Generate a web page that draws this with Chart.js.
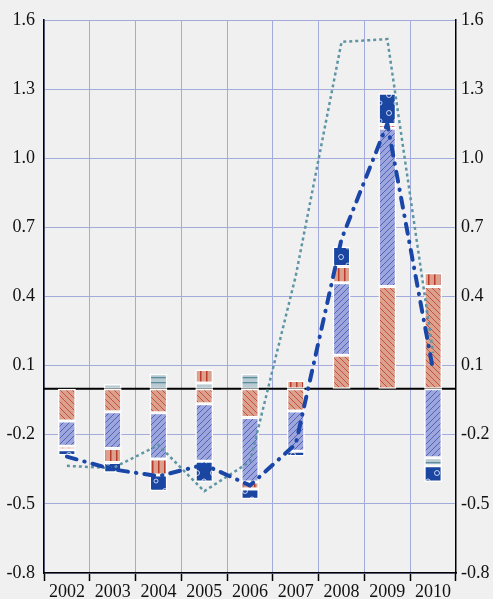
<!DOCTYPE html>
<html>
<head>
<meta charset="utf-8">
<script src="https://cdn.jsdelivr.net/npm/chart.js@4.4.0/dist/chart.umd.min.js"></script>
<style>
  html, body { margin: 0; padding: 0; background: #f0f0f0; }
  #wrap { width: 493px; height: 599px; }
</style>
</head>
<body>
<div id="wrap"><canvas id="chart" width="493" height="599"></canvas></div>
<script>
// categories
const years = ['2002', '2003', '2004', '2005', '2006', '2007', '2008', '2009', '2010']

// stacked contributions
const salmonDiag = [-0.14, -0.10, -0.105, -0.065, -0.125, -0.097, 0.145, 0.443, 0.443]
const blueDiag   = [-0.11, -0.16, -0.20, -0.25, -0.28, -0.175, 0.315, 0.687, -0.30]
const hLines     = [null, 0.02, 0.065, 0.025, 0.065, null, null, null, -0.035]
const vLines     = [-0.015, -0.06, -0.07, 0.058, -0.03, 0.035, 0.07, 0.017, 0.06]
const darkBlue   = [-0.025, -0.045, -0.07, -0.09, -0.045, -0.022, 0.087, 0.135, -0.07]

// lines
const dottedLine  = [-0.335, -0.345, -0.245, -0.445, -0.317, 0.49, 1.505, 1.517, 0.155]
const dashDotLine = [-0.295, -0.35, -0.38, -0.33, -0.42, -0.24, 0.65, 1.15, 0.08]

// axis
const yMin = -0.8
const yMax = 1.6
const yStep = 0.3

const ctx = document.getElementById('chart').getContext('2d')

function makePattern(w, h, bg, draw) {
  const c = document.createElement('canvas')
  c.width = w
  c.height = h
  const g = c.getContext('2d')
  g.fillStyle = bg
  g.fillRect(0, 0, w, h)
  draw(g)
  return ctx.createPattern(c, 'repeat')
}

const patSalmonDiag = makePattern(6, 6, '#dba18c', g => {
  g.strokeStyle = '#c2453a'
  g.lineWidth = 0.9
  g.beginPath()
  for (const k of [-6, 0, 6]) { g.moveTo(k, 0); g.lineTo(k + 6, 6) }
  g.stroke()
})
const patBlueDiag = makePattern(6, 6, '#9ca5dc', g => {
  g.strokeStyle = '#4a5cb4'
  g.lineWidth = 0.9
  g.beginPath()
  for (const k of [-6, 0, 6]) { g.moveTo(k + 6, 0); g.lineTo(k, 6) }
  g.stroke()
})
const patH = makePattern(6, 5, '#b8cbd2', g => {
  g.fillStyle = '#5b8d9d'
  g.fillRect(0, 2, 6, 1.3)
})
const patV = makePattern(6, 6, '#dba18c', g => {
  g.fillStyle = '#bb3a2c'
  g.fillRect(2, 0, 1.5, 6)
})
const patDark = makePattern(16, 18, '#1a46a2', g => {
  g.strokeStyle = 'rgba(255,255,255,0.75)'
  g.lineWidth = 1
  g.beginPath(); g.arc(5, 5, 2.5, 0, Math.PI * 2); g.stroke()
  g.beginPath(); g.arc(12, 13, 2, 0, Math.PI * 2); g.stroke()
})

function barSet(label, data, bg) {
  return {
    type: 'bar', label: label, data: data,
    backgroundColor: bg, borderColor: '#ffffff', borderWidth: 1.5,
    borderSkipped: false, stack: 'bars', order: 1,
    categoryPercentage: 1, barPercentage: 0.39
  }
}

// zero line drawn under the bars
const zeroLine = {
  id: 'zeroLine',
  beforeDatasetsDraw(chart) {
    const y = chart.scales.y.getPixelForValue(0)
    const a = chart.chartArea
    const c = chart.ctx
    c.save()
    c.strokeStyle = '#000'
    c.lineWidth = 2
    c.beginPath()
    c.moveTo(a.left, y)
    c.lineTo(a.right, y)
    c.stroke()
    c.restore()
  }
}

const bgFill = {
  id: 'bgFill',
  beforeDraw(chart) {
    const c = chart.ctx
    c.save()
    c.fillStyle = '#f0f0f0'
    c.fillRect(0, 0, chart.width, chart.height)
    c.restore()
  }
}

const tickFont = { family: '"Liberation Serif", "DejaVu Serif", serif', size: 18 }

new Chart(ctx, {
  data: {
    labels: years,
    datasets: [
      {
        type: 'line', label: 'dash-dot', data: dashDotLine, stack: 'l1', order: -2,
        borderColor: '#1a46a8', borderWidth: 4, borderDash: [10, 8, 0.5, 8],
        borderCapStyle: 'round', pointRadius: 0, tension: 0, fill: false
      },
      {
        type: 'line', label: 'dotted', data: dottedLine, stack: 'l2', order: -1,
        borderColor: '#5e95a4', borderWidth: 2.5, borderDash: [3, 3],
        pointRadius: 0, tension: 0, fill: false
      },
      barSet('a', salmonDiag, patSalmonDiag),
      barSet('b', blueDiag, patBlueDiag),
      barSet('c', hLines, patH),
      barSet('d', vLines, patV),
      barSet('e', darkBlue, patDark)
    ]
  },
  options: {
    responsive: false,
    animation: false,
    devicePixelRatio: 1,
    layout: { padding: { top: 20, left: 0, right: 0, bottom: 0 } },
    plugins: { legend: { display: false }, tooltip: { enabled: false } },
    scales: {
      x: {
        stacked: true,
        offset: true,
        grid: { offset: true, color: '#a3aadc', lineWidth: 1, tickColor: '#000', tickLength: 8, tickWidth: 1.5 },
        border: { display: true, color: '#000', width: 1.5 },
        ticks: { color: '#111', font: tickFont, padding: 0, maxRotation: 0 },
        afterFit(scale) { scale.height = 26 }
      },
      y: {
        stacked: true,
        position: 'left',
        min: yMin, max: yMax,
        grid: { color: '#a3aadc', lineWidth: 1, drawTicks: false },
        border: { display: true, color: '#000', width: 1.5 },
        ticks: {
          stepSize: yStep, color: '#111', font: tickFont, padding: 9,
          callback: v => Number(v).toFixed(1)
        },
        afterFit(scale) { scale.width = 44 }
      },
      y2: {
        position: 'right',
        min: yMin, max: yMax,
        grid: { display: false, drawTicks: false },
        border: { display: true, color: '#000', width: 1.5 },
        ticks: {
          stepSize: yStep, color: '#111', font: tickFont, padding: 5,
          callback: v => Number(v).toFixed(1)
        },
        afterFit(scale) { scale.width = 37 }
      }
    }
  },
  plugins: [bgFill, zeroLine]
})
</script>
</body>
</html>
